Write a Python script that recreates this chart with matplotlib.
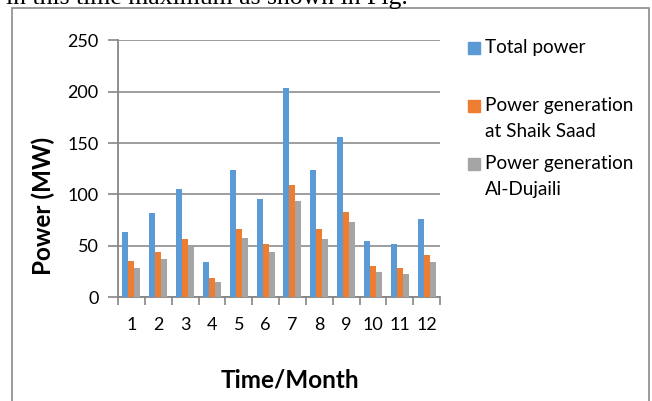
import numpy as np
import matplotlib
matplotlib.use("Agg")
import matplotlib.pyplot as plt
from matplotlib.patches import Rectangle

plt.rcParams['font.family'] = ['Lato', 'DejaVu Sans']

# monthly power figures (MW)
months = [str(m) for m in range(1, 13)]
total_power = [64, 82, 105.5, 34.5, 124, 96, 204, 123.5, 156, 55, 52, 76]
shaik_saad = [35, 44, 56.5, 19, 66, 51.5, 109.5, 66, 83, 30, 28.5, 41]
al_dujaili = [28.5, 37, 48.5, 14.5, 58, 44, 94, 57, 73.5, 24.5, 22.5, 34.5]

series = [total_power, shaik_saad, al_dujaili]
labels = ['Total power', 'Power generation\nat Shaik Saad', 'Power generation\nAl-Dujaili']
colors = ['#5B9BD5', '#ED7D31', '#A5A5A5']

W, H = 652, 401
fig = plt.figure(figsize=(W / 100, H / 100), dpi=100)

def px(x, y):
    # pixel position (from top-left) -> figure fraction
    return x / W, 1 - y / H

# chart frame
fig.patches.append(Rectangle(px(12, 430), (649 - 12) / W, (430 - 7.5) / H,
                             transform=fig.transFigure, fill=False,
                             edgecolor='#8a8a8a', lw=1.2))
# line of body text above the chart
fig.text(6 / W, 1 - 4 / H, 'in this time maximum as shown in Fig.',
         family='Liberation Serif', fontsize=18.5, ha='left', va='baseline')

l, b = px(118, 297.3)
r, t = px(440, 40.3)
ax = fig.add_axes([l, b, r - l, t - b])

x = np.arange(len(months))
bw = 0.224
for i, (vals, c) in enumerate(zip(series, colors)):
    ax.bar(x + (i - 1) * bw, vals, bw, color=c, zorder=3)

ax.set_xlim(-0.5, len(months) - 0.5)
ax.set_ylim(0, 250)
ax.set_yticks(range(0, 251, 50))
ax.set_xticks(x)
ax.set_xticklabels(months)
ax.set_xticks(np.arange(-0.5, len(months)), minor=True)
ax.tick_params(axis='x', which='major', length=0, pad=14, labelsize=13)
ax.tick_params(axis='x', which='minor', length=6, color='#868686', width=1.2)
ax.tick_params(axis='y', length=7, color='#868686', width=1.2, pad=7, labelsize=13)
ax.grid(axis='y', color='#8c8c8c', lw=1.2, zorder=0)
for s in ['top', 'right']:
    ax.spines[s].set_visible(False)
for s in ['left', 'bottom']:
    ax.spines[s].set_color('#868686')
    ax.spines[s].set_linewidth(1.3)

fig.text(*px(43, 206), 'Power (MW)', rotation=90, fontsize=17.5, fontweight='bold',
         ha='center', va='center')
fig.text(*px(290, 380), 'Time/Month', fontsize=17.5, fontweight='bold',
         ha='center', va='center')

# legend
entry_y = [47.7, 106, 164]
for lab, c, y in zip(labels, colors, entry_y):
    fig.patches.append(Rectangle(px(468, y + 6), 12 / W, 12 / H,
                                 transform=fig.transFigure, color=c))
    fig.text(*px(485, y - 9), lab, fontsize=13.7, ha='left', va='top',
             linespacing=1.65)

fig.savefig('out.png', dpi=100)
